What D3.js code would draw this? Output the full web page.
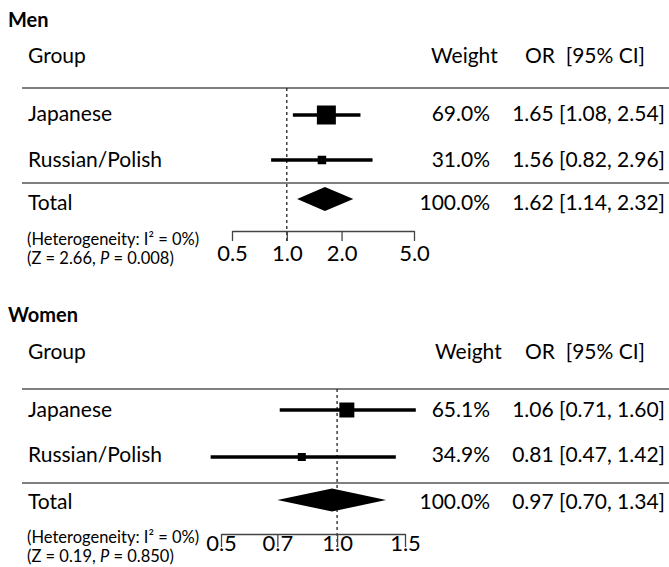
<!DOCTYPE html>
<html>
<head>
<meta charset="utf-8">
<script src="https://cdn.jsdelivr.net/npm/d3@7"></script>
<style>
body{margin:0;background:#fff;}
svg text{font-family:Lato, "Open Sans", sans-serif;fill:#000;}
</style>
</head>
<body>
<svg id="chart" width="669" height="567"></svg>
<script>
const groups = ['Japanese', 'Russian/Polish'];

const menOR = [1.65, 1.56];
const menLo = [1.08, 0.82];
const menHi = [2.54, 2.96];
const menWeight = [69.0, 31.0];
const menTotal = [1.62, 1.14, 2.32];
const menTicks = [0.5, 1.0, 2.0, 5.0];

const womenOR = [1.06, 0.81];
const womenLo = [0.71, 0.47];
const womenHi = [1.60, 1.42];
const womenWeight = [65.1, 34.9];
const womenTotal = [0.97, 0.70, 1.34];
const womenTicks = [0.5, 0.7, 1.0, 1.5];

const hetI2 = [0, 0];
const hetZ = [2.66, 0.19];
const hetP = [0.008, 0.850];

const FS = 21;
const svg = d3.select('#chart');
const f2 = d3.format('.2f');
const f1 = d3.format('.1f');

function drawPanel(p){
  const g = svg.append('g');
  const x = d3.scaleLog().domain(d3.extent(p.ticks)).range(p.range);

  g.append('text').attr('x', 8).attr('y', p.titleY)
    .attr('font-size', 20).attr('font-weight', 'bold').text(p.title);

  g.append('text').attr('x', 28).attr('y', p.headY).attr('font-size', FS).text('Group');
  g.append('text').attr('x', p.weightX).attr('y', p.headY).attr('font-size', FS).text('Weight');
  g.append('text').attr('x', 525).attr('y', p.headY).attr('font-size', FS)
    .style('white-space', 'pre').text('OR  [95% CI]');

  g.selectAll('.rule')
    .data(p.rules)
    .enter()
    .append('line')
    .attr('x1', 22).attr('x2', 669)
    .attr('y1', d => d).attr('y2', d => d)
    .attr('stroke', '#555').attr('stroke-width', 1.5);

  g.append('line')
    .attr('x1', x(1)).attr('x2', x(1))
    .attr('y1', p.rules[0]).attr('y2', p.axisY + p.tickSize)
    .attr('stroke', '#222').attr('stroke-width', 1.3)
    .attr('stroke-dasharray', '3,3');

  const rows = groups.map((name, i) => ({
    name, or: p.or[i], lo: p.lo[i], hi: p.hi[i], w: p.weight[i], y: p.rowY[i], base: p.rowBase[i]
  }));

  const row = g.selectAll('.row').data(rows).enter().append('g').attr('class', 'row');
  row.append('text').attr('x', 28).attr('y', d => d.base).attr('font-size', FS).text(d => d.name);
  row.append('line')
    .attr('x1', d => x(d.lo)).attr('x2', d => x(d.hi))
    .attr('y1', d => d.y).attr('y2', d => d.y)
    .attr('stroke', '#000').attr('stroke-width', 3.5);
  row.append('rect')
    .attr('x', d => x(d.or) - d.w * p.boxK / 2)
    .attr('y', d => d.y - d.w * p.boxK / 2)
    .attr('width', d => d.w * p.boxK)
    .attr('height', d => d.w * p.boxK)
    .attr('fill', '#000');
  row.append('text').attr('x', 490).attr('y', d => d.base).attr('font-size', FS)
    .attr('text-anchor', 'end').text(d => f1(d.w) + '%');
  row.append('text').attr('x', 665).attr('y', d => d.base).attr('font-size', FS)
    .attr('text-anchor', 'end').text(d => `${f2(d.or)} [${f2(d.lo)}, ${f2(d.hi)}]`);

  const [tor, tlo, thi] = p.total;
  const ty = p.totalY, th = p.diamondH;
  g.append('path')
    .attr('d', `M${x(tlo)},${ty}L${x(tor)},${ty - th}L${x(thi)},${ty}L${x(tor)},${ty + th}Z`)
    .attr('fill', '#000');
  g.append('text').attr('x', 28).attr('y', p.totalBase).attr('font-size', FS).text('Total');
  g.append('text').attr('x', 490).attr('y', p.totalBase).attr('font-size', FS)
    .attr('text-anchor', 'end').text(f1(d3.sum(p.weight)) + '%');
  g.append('text').attr('x', 665).attr('y', p.totalBase).attr('font-size', FS)
    .attr('text-anchor', 'end').text(`${f2(tor)} [${f2(tlo)}, ${f2(thi)}]`);

  const axis = d3.axisBottom(x)
    .tickValues(p.ticks)
    .tickFormat(f1)
    .tickSize(p.tickSize)
    .tickSizeOuter(0)
    .tickPadding(p.tickPadding);
  const ag = g.append('g').attr('transform', `translate(0,${p.axisY})`).call(axis);
  ag.selectAll('path, line').attr('stroke', '#444').attr('stroke-width', 1.3);
  ag.selectAll('text').attr('font-size', 22);

  const h1 = g.append('text').attr('x', 27).attr('y', p.hetY[0]).attr('font-size', 16.5);
  h1.text(`(Heterogeneity: I² = ${p.i2}%)`);
  const h2 = g.append('text').attr('x', 27).attr('y', p.hetY[1]).attr('font-size', 16.5);
  h2.append('tspan').text(`(Z = ${f2(p.z)}, `);
  h2.append('tspan').attr('font-style', 'italic').text('P');
  h2.append('tspan').text(` = ${d3.format('.3f')(p.p)})`);
}

drawPanel({
  title: 'Men', titleY: 27, headY: 63, weightX: 431,
  rules: [88, 183], rowY: [115, 160], rowBase: [121, 167],
  totalY: 199, totalBase: 210, diamondH: 12,
  or: menOR, lo: menLo, hi: menHi, weight: menWeight, total: menTotal,
  ticks: menTicks, range: [232, 414], boxK: 0.275,
  axisY: 231, tickSize: 10, tickPadding: 4, hetY: [245, 264],
  i2: hetI2[0], z: hetZ[0], p: hetP[0]
});

drawPanel({
  title: 'Women', titleY: 322, headY: 359, weightX: 435,
  rules: [389, 483], rowY: [410, 457], rowBase: [417, 462],
  totalY: 500, totalBase: 509, diamondH: 11.5,
  or: womenOR, lo: womenLo, hi: womenHi, weight: womenWeight, total: womenTotal,
  ticks: womenTicks, range: [221, 405], boxK: 0.23,
  axisY: 534, tickSize: 13, tickPadding: -12, hetY: [543, 562],
  i2: hetI2[1], z: hetZ[1], p: hetP[1]
});
</script>
</body>
</html>
